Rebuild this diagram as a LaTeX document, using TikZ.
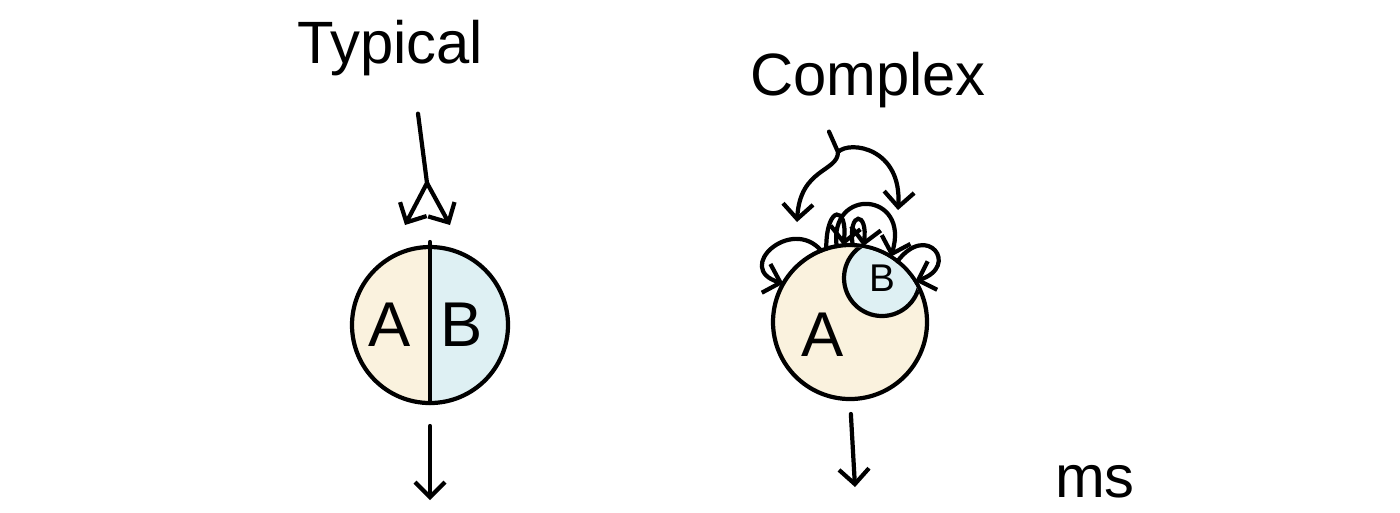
\documentclass[tikz,border=0pt]{standalone}
\usepackage{fontspec}
\setmainfont{Liberation Sans}
\usepackage{xcolor}
\usepackage{tikz}
\usetikzlibrary{arrows.meta,positioning,calc,backgrounds}
\definecolor{fillA}{HTML}{FAF2DE}
\definecolor{fillB}{HTML}{DEF0F3}

\begin{document}
\begin{tikzpicture}[
  x=0.1mm,y=-0.1mm,line width=1.2pt,line cap=round,
  >={Straight Barb[length=1.5mm,width=3mm]},
  ring/.style={draw,circle,inner sep=0pt,outer sep=0pt},
  big/.style={font=\fontsize{17}{20}\selectfont},
  lbl/.style={font=\fontsize{18}{20}\selectfont}
]
\useasboundingbox (0,0) rectangle (1400,512);
% typical
\node[big] (typ) at (390,48) {Typical};
\node[ring,minimum size=15.6mm] (ab) at (430,325) {};
\begin{scope}[on background layer]
\fill[fillA] (ab.north) arc[start angle=90,end angle=270,radius=7.8mm] -- cycle;
\fill[fillB] (ab.south) arc[start angle=-90,end angle=90,radius=7.8mm] -- cycle;
\end{scope}
\draw[shorten <=-0.5mm] (ab.north) -- (ab.south);
\node[lbl] (ta) at (390,325) {A};
\node[lbl] (tb) at (462,325) {B};
\coordinate (tsplit) at (427,183);
\coordinate (tout) at (430,500);
\draw ([xshift=2.8mm,yshift=-2.4mm]typ.south) -- (tsplit);
\draw[->] (tsplit) -- ([xshift=-2.5mm,yshift=2.2mm]ab.north);
\draw[->] (tsplit) -- ([xshift=2mm,yshift=2.2mm]ab.north);
\draw[->,shorten <=2.3mm] (ab.south) -- (tout);
% complex
\node[big] (cpx) at (868,80) {Complex};
\node[ring,fill=fillA,minimum size=15.4mm] (cA) at (850,322) {};
\begin{scope}
\clip (cA.center) circle[radius=7.5mm];
\node[ring,fill=fillB,minimum size=7.6mm,font=\fontsize{11}{12}\selectfont] (cB) at (882,278) {B};
\end{scope}
\node[lbl] (ca) at (823,335) {A};
\coordinate (csplit) at (838,152);
\coordinate (clft) at (797,222);
\coordinate (crgt) at (898,210);
\coordinate (cout) at (855,487);
\draw ([xshift=-3.9mm,yshift=-1mm]cpx.south) -- (csplit);
\draw[->] (csplit) .. controls (838,172) and (800,168) .. (clft);
\draw[->] (csplit) .. controls (850,140) and (902,148) .. (crgt);
% loops
\draw[->] (cA.112) .. controls +(-30,-35) and +(-50,-15) .. (cA.150);
\draw[->] (cA.108) .. controls +(0,-45) and +(5,-40) .. (cA.95);
\draw[->] (cA.100) .. controls +(-8,-60) and +(20,-65) .. (cA.58);
\draw[->] (cA.88) .. controls +(-5,-35) and +(5,-35) .. (cA.80);
\draw[->] (cA.52) .. controls +(30,-40) and +(45,-15) .. (cA.32);
\draw[->,shorten <=1.5mm] (cA.south) -- (cout);
\node[big] (ms) at (1095,482) {ms};
\end{tikzpicture}
\end{document}
